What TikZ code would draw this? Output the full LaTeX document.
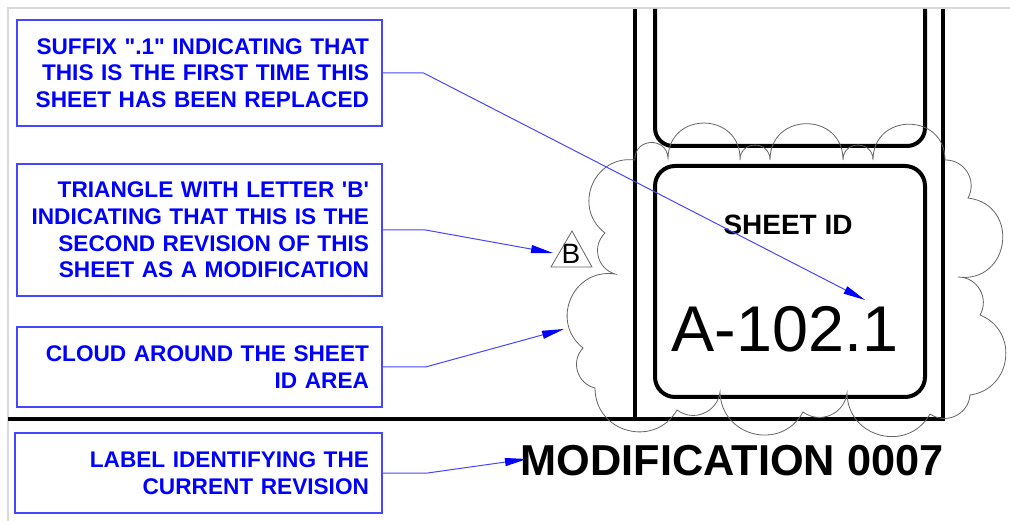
\documentclass[tikz,border=0pt]{standalone}
\usepackage{fontspec}
\setmainfont{Liberation Sans}[Ligatures=TeXOff]
\usetikzlibrary{arrows.meta}
\definecolor{callblue}{RGB}{0,0,255}
\definecolor{leadblue}{RGB}{70,70,255}
\definecolor{cloudgray}{RGB}{100,100,100}
\tikzset{
  callout/.style={draw=leadblue, line width=0.3mm, text=callblue, align=right,
    font=\bfseries\fontsize{16.1}{19}\selectfont, text width=84.75mm, inner xsep=3.25mm},
  leader/.style={leadblue, line width=0.25mm, -{Triangle[length=5.5mm,width=2mm,color=callblue]}},
  heavy/.style={line width=1mm},
  scallop/.style={bend left=90, looseness=1.7},
  midscallop/.style={bend left=75, looseness=1.35},
  flatscallop/.style={bend left=60, looseness=1.13},
}
\begin{document}
\begin{tikzpicture}[x=0.25mm, y=-0.25mm]
  \useasboundingbox (0,0) rectangle (1010,521);
  \draw[gray!30, line width=0.5mm] (8,521) -- (8,8) -- (1010,8);
  % sheet border
  \draw[heavy] (8,419) -- (943,419) -- (943,9);
  \draw[heavy] (635,9) -- (635,419);
  \draw[heavy, rounded corners=4.5mm] (655,9) -- (655,146) -- (925,146) -- (925,9);
  \draw[heavy, rounded corners=5mm] (655,166) rectangle (925,397);
  % revision cloud
  \draw[cloudgray, line width=0.2mm]
    (635,160) to[scallop] (668,158) to[scallop] (740,160) to[scallop] (770,160)
    to[scallop] (843,160) to[scallop] (873,160) to[scallop] (945,160)
    to[flatscallop] (968,198) to[scallop] (958,277) to[flatscallop] (980,315)
    to[midscallop] (970,395) to[flatscallop] (930,414)
    to[midscallop] (847,393) to[flatscallop] (803,412) to[midscallop] (720,392)
    to[flatscallop] (677,410) to[midscallop] (595,388)
    to[flatscallop] (583,348) to[midscallop] (615,274) to[flatscallop] (605,233)
    to[midscallop] (635,160);
  % texts
  \node[anchor=base, font=\bfseries\fontsize{19.9}{24}\selectfont] (sid) at (788,235) {SHEET ID};
  \node[anchor=base, font=\fontsize{46}{55}\selectfont] (num) at (785,352) {A-102.1};
  \node[anchor=base, font=\bfseries\fontsize{30.8}{37}\selectfont] (mod) at (732,475) {MODIFICATION 0007};
  \node[anchor=base, inner sep=0pt, font=\fontsize{19.9}{24}\selectfont] (rev) at (571,264) {B};
  \draw[cloudgray, line width=0.2mm] (572,231) -- (592,267) -- (551,267) -- cycle;
  % callouts
  \node[callout, minimum height=26.5mm] (suffix) at (199.5,73)
    {SUFFIX ".1" INDICATING THAT\\ THIS IS THE FIRST TIME THIS\\ SHEET HAS BEEN REPLACED};
  \node[callout, minimum height=33mm] (tri) at (199.5,230)
    {TRIANGLE WITH LETTER 'B'\\ INDICATING THAT THIS IS THE\\ SECOND REVISION OF THIS\\ SHEET AS A MODIFICATION};
  \node[callout, minimum height=20mm] (cloud) at (199.5,367)
    {CLOUD AROUND THE SHEET\\ ID AREA};
  \node[callout, minimum height=20mm, text width=85.25mm] (label) at (198.5,473)
    {LABEL IDENTIFYING THE\\ CURRENT REVISION};
  \coordinate (t1) at (865,300);
  \coordinate (t2) at (553,253);
  \coordinate (t3) at (564,329);
  \coordinate (t4) at (527,459);
  \begin{scope}[leader]
    \draw (suffix.east) -- ++(41,0) -- (t1);
    \draw (tri.east) -- ++(43,0) -- (t2);
    \draw (cloud.east) -- ++(43,0) -- (t3);
    \draw (label.east) -- ++(45,0) -- (t4);
  \end{scope}
\end{tikzpicture}
\end{document}
